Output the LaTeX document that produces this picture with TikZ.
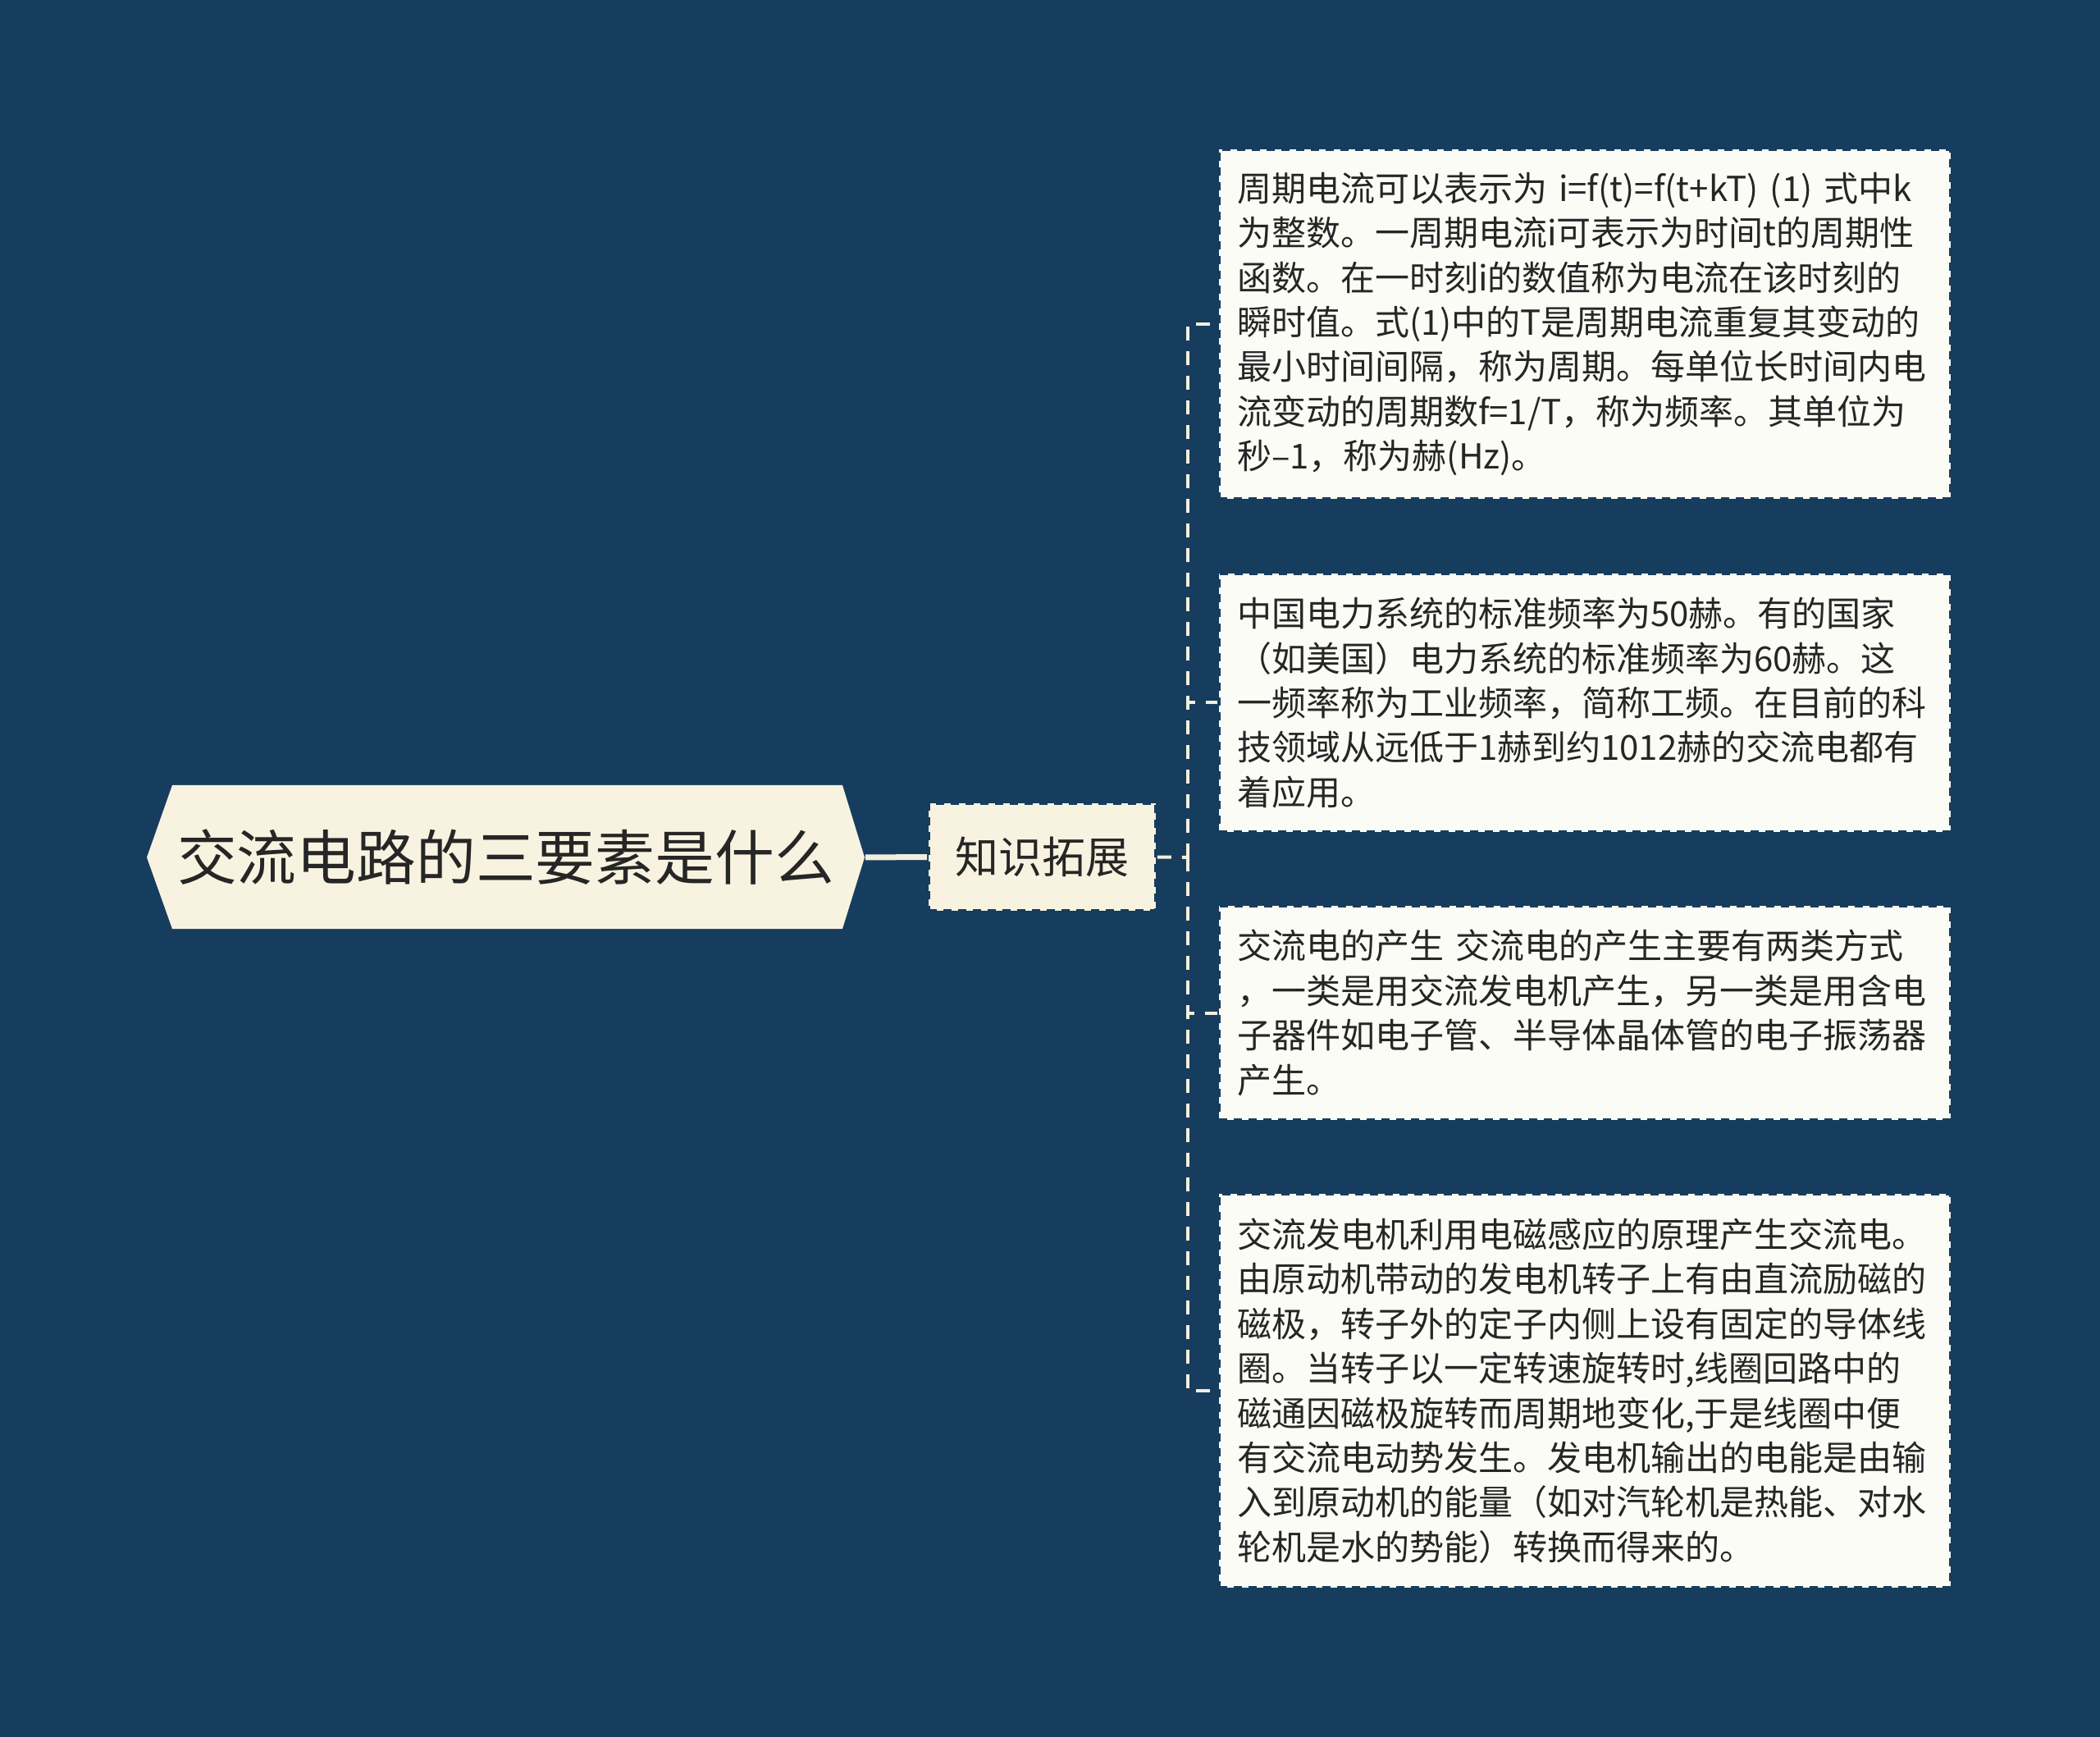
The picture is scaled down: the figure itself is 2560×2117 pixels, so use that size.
\documentclass[tikz,border=0pt]{standalone}
\usepackage{fontspec}
\setmainfont{Noto Sans CJK SC}
\definecolor{bgc}{HTML}{173D5E}
\definecolor{rootfill}{HTML}{F8F3E0}
\definecolor{leaffill}{HTML}{FCFCF6}
\definecolor{txt}{HTML}{262626}
\definecolor{linec}{HTML}{F3EFDD}
\begin{document}
\begin{tikzpicture}[x=0.25pt,y=-0.25pt,
  leaf/.style={draw=bgc, line width=0.9pt, dash pattern=on 2.5pt off 2pt,
    fill=leaffill, text=txt, minimum width=223pt, inner xsep=5.5pt, inner ysep=0pt,
    align=left, text width=212pt, font=\fontsize{10.5pt}{13.6pt}\selectfont},
  midbox/.style={draw=bgc, line width=0.9pt, dash pattern=on 2.5pt off 2pt,
    fill=rootfill, text=txt, minimum width=69.25pt, minimum height=32.75pt,
    inner sep=0pt, font=\fontsize{13.25pt}{16pt}\selectfont},
  conn/.style={draw=linec, line width=1pt, dash pattern=on 4.25pt off 3.25pt},
  rootconn/.style={draw=linec, line width=1.75pt}]
\useasboundingbox[fill=bgc] (0,0) rectangle (2560,2117);

% root hexagon
\fill[rootfill] (179,1045) -- (210,957) -- (1027,957) -- (1054,1045) -- (1027,1132) -- (210,1132) -- cycle;
\node[minimum width=218.75pt, minimum height=44pt, inner sep=0pt, text=txt,
  font=\fontsize{18.2pt}{22pt}\selectfont] (root) at (616.5,1045) {交流电路的三要素是什么};

% middle node
\node[midbox] (zs) at (1270.5,1044.5) {知识拓展};

% leaves
\node[leaf, minimum height=106.5pt] (l1) at (1932,395) {周期电流可以表示为 i=f(t)=f(t+kT) (1) 式中k\\
为整数。一周期电流i可表示为时间t的周期性\\
函数。在一时刻i的数值称为电流在该时刻的\\
瞬时值。式(1)中的T是周期电流重复其变动的\\
最小时间间隔，称为周期。每单位长时间内电\\
流变动的周期数f=1/T，称为频率。其单位为\\
秒–1，称为赫(Hz)。};

\node[leaf, minimum height=78.75pt] (l2) at (1932,856.5) {中国电力系统的标准频率为50赫。有的国家\\
（如美国）电力系统的标准频率为60赫。这\\
一频率称为工业频率，简称工频。在目前的科\\
技领域从远低于1赫到约1012赫的交流电都有\\
着应用。};

\node[leaf, minimum height=65.25pt] (l3) at (1932,1234.5) {交流电的产生 交流电的产生主要有两类方式\\
，一类是用交流发电机产生，另一类是用含电\\
子器件如电子管、半导体晶体管的电子振荡器\\
产生。};

\node[leaf, minimum height=120pt] (l4) at (1932,1695) {交流发电机利用电磁感应的原理产生交流电。\\
由原动机带动的发电机转子上有由直流励磁的\\
磁极，转子外的定子内侧上设有固定的导体线\\
圈。当转子以一定转速旋转时,线圈回路中的\\
磁通因磁极旋转而周期地变化,于是线圈中便\\
有交流电动势发生。发电机输出的电能是由输\\
入到原动机的能量（如对汽轮机是热能、对水\\
轮机是水的势能）转换而得来的。};

% connectors
\coordinate (j) at (1448,1045);
\draw[rootconn] (root.east) -- (zs.west);
\draw[conn] (zs.east) -- (j);
\draw[conn] (j) |- (l1.west);
\draw[conn] (j) |- (l2.west);
\draw[conn] (j) |- (l3.west);
\draw[conn] (j) |- (l4.west);
\end{tikzpicture}
\end{document}
